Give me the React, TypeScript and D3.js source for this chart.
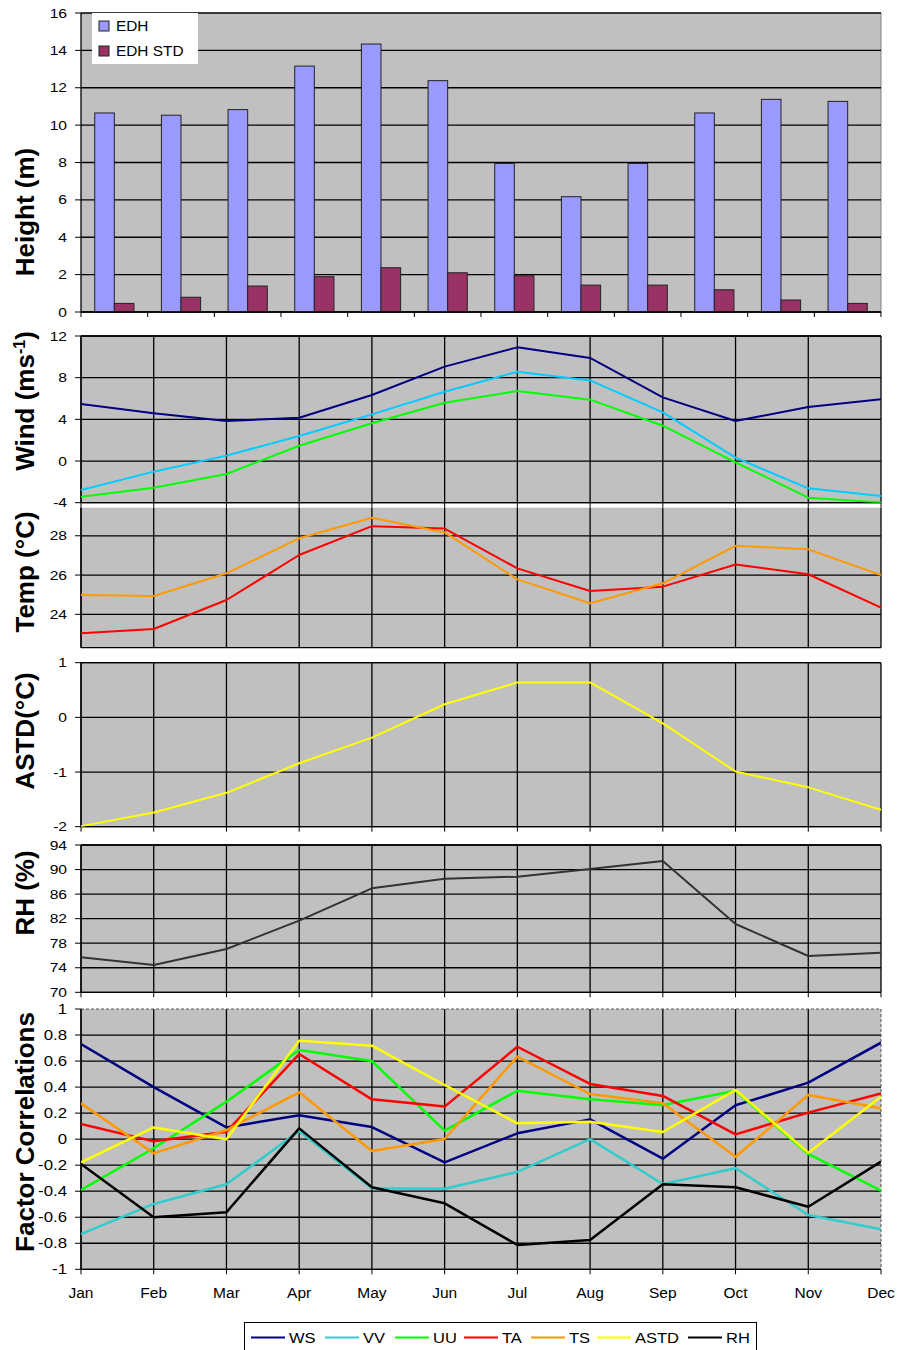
import React from "react";
import * as d3 from "d3";

// ---------- DATA ----------
const months = ["Jan", "Feb", "Mar", "Apr", "May", "Jun", "Jul", "Aug", "Sep", "Oct", "Nov", "Dec"];

const edh = [10.65, 10.53, 10.83, 13.16, 14.34, 12.38, 7.95, 6.17, 7.95, 10.65, 11.38, 11.27];
const edhStd = [0.46, 0.79, 1.39, 1.89, 2.37, 2.1, 1.94, 1.44, 1.44, 1.19, 0.64, 0.46];

const windWS = [5.47, 4.58, 3.84, 4.16, 6.34, 9.06, 10.91, 9.89, 6.11, 3.84, 5.19, 5.92];
const windVV = [-2.78, -1.02, 0.52, 2.4, 4.48, 6.65, 8.57, 7.74, 4.67, 0.32, -2.62, -3.35];
const windUU = [-3.42, -2.56, -1.24, 1.47, 3.62, 5.6, 6.72, 5.89, 3.39, -0.13, -3.52, -3.97];

const tempTA = [23.03, 23.25, 24.73, 27.02, 28.49, 28.37, 26.34, 25.19, 25.41, 26.54, 26.04, 24.34];
const tempTS = [24.98, 24.93, 26.09, 27.87, 28.92, 28.17, 25.78, 24.56, 25.58, 27.49, 27.31, 26.0];

const astdValues = [-1.99, -1.74, -1.38, -0.84, -0.37, 0.24, 0.64, 0.64, -0.11, -0.99, -1.28, -1.69];

const rhValues = [75.7, 74.46, 77.06, 81.67, 86.94, 88.52, 88.84, 90.09, 91.39, 81.13, 75.92, 76.46];

const corrWS = [0.731, 0.4, 0.09, 0.183, 0.093, -0.178, 0.045, 0.152, -0.15, 0.26, 0.434, 0.741];
const corrVV = [-0.729, -0.498, -0.347, 0.063, -0.378, -0.381, -0.252, 0.0, -0.345, -0.224, -0.583, -0.693];
const corrUU = [-0.391, -0.07, 0.288, 0.685, 0.6, 0.065, 0.372, 0.306, 0.262, 0.372, -0.114, -0.396];
const corrTA = [0.116, -0.017, 0.057, 0.654, 0.306, 0.25, 0.71, 0.424, 0.332, 0.037, 0.204, 0.352];
const corrTS = [0.275, -0.109, 0.07, 0.36, -0.091, 0.001, 0.634, 0.347, 0.275, -0.135, 0.339, 0.237];
const corrASTD = [-0.178, 0.09, 0.0, 0.757, 0.718, 0.416, 0.122, 0.134, 0.055, 0.378, -0.104, 0.326];
const corrRH = [-0.191, -0.6, -0.562, 0.083, -0.37, -0.493, -0.813, -0.775, -0.347, -0.37, -0.519, -0.173];

const heightTicks = [0, 2, 4, 6, 8, 10, 12, 14, 16];
const windTicks = [-4, 0, 4, 8, 12];
const tempTicks = [24, 26, 28];
const astdTicks = [-2, -1, 0, 1];
const rhTicks = [70, 74, 78, 82, 86, 90, 94];
const corrTicks = [-1, -0.8, -0.6, -0.4, -0.2, 0, 0.2, 0.4, 0.6, 0.8, 1];

const legendNames = ["WS", "VV", "UU", "TA", "TS", "ASTD", "RH"];

// ---------- STYLE / LAYOUT ----------
const W = 897;
const H = 1350;
const L = 81;
const R = 881;
const BG = "#C0C0C0";
const FONT = "'Liberation Sans', Arial, Helvetica, sans-serif";

const corrColors = ["#000080", "#33CCCC", "#00FF00", "#FF0000", "#FF9900", "#FFFF00", "#000000"];
const legendX = [251, 325, 395, 464, 531, 597, 688];

const xPoint = d3.scalePoint<string>().domain(months).range([L, R]);

function TickLabel({ y, text, size }: { y: number; text: string; size: number }) {
  return (
    <text
      transform={`translate(67,${y}) scale(1.2,1)`}
      textAnchor="end"
      dominantBaseline="central"
      fontSize={size}
      fontFamily={FONT}
      fill="#000"
    >
      {text}
    </text>
  );
}

function YLabel({ cy, children }: { cy: number; children: React.ReactNode }) {
  return (
    <text
      transform={`translate(34,${cy}) rotate(-90)`}
      textAnchor="middle"
      fontSize={26}
      fontWeight="bold"
      fontFamily={FONT}
      fill="#000"
    >
      {children}
    </text>
  );
}

type Series = { values: number[]; color: string; width: number };

function LinePanel({
  id,
  top,
  bottom,
  domain,
  ticks,
  series,
  fmt,
  tickSize,
  topLine,
  dashedBorder,
  bottomTicks,
}: {
  id: string;
  top: number;
  bottom: number;
  domain: [number, number];
  ticks: number[];
  series: Series[];
  fmt: (v: number) => string;
  tickSize: number;
  topLine: boolean;
  dashedBorder?: boolean;
  bottomTicks: boolean;
}) {
  const y = d3.scaleLinear().domain(domain).range([bottom, top]);
  const line = d3
    .line<number>()
    .x((_, i) => xPoint(months[i]) as number)
    .y((d) => y(d));
  return (
    <g>
      <defs>
        <clipPath id={`clip-${id}`}>
          <rect x={L} y={top} width={R - L} height={bottom - top} />
        </clipPath>
      </defs>
      <rect x={L} y={top} width={R - L} height={bottom - top} fill={BG} />
      {/* horizontal gridlines */}
      {ticks.map((t) => {
        const yy = y(t);
        if (yy < top - 0.5 || yy > bottom + 0.5) return null;
        if (dashedBorder && Math.abs(yy - top) < 1) return null;
        return <line key={`h${t}`} x1={L} x2={R} y1={yy} y2={yy} stroke="#000" strokeWidth={1.3} />;
      })}
      {/* vertical gridlines */}
      {months.map((m, i) => {
        if (dashedBorder && i === months.length - 1) return null;
        const xx = xPoint(m) as number;
        return <line key={`v${m}`} x1={xx} x2={xx} y1={top} y2={bottom} stroke="#000" strokeWidth={1.3} />;
      })}
      {dashedBorder && (
        <g stroke="#555" strokeWidth={1} strokeDasharray="3,2" fill="none">
          <line x1={L} x2={R} y1={top} y2={top} />
          <line x1={R} x2={R} y1={top} y2={bottom} />
        </g>
      )}
      {topLine && !dashedBorder && <line x1={L} x2={R} y1={top} y2={top} stroke="#000" strokeWidth={1.3} />}
      {/* axes */}
      <line x1={L} x2={L} y1={top} y2={bottom} stroke="#000" strokeWidth={1.3} />
      <line x1={L} x2={R} y1={bottom} y2={bottom} stroke="#000" strokeWidth={1.3} />
      {ticks.map((t) => {
        const yy = y(t);
        if (yy < top - 0.5 || yy > bottom + 0.5) return null;
        return <line key={`lt${t}`} x1={L - 6} x2={L} y1={yy} y2={yy} stroke="#000" strokeWidth={1} />;
      })}
      {bottomTicks &&
        months.map((m) => {
          const xx = xPoint(m) as number;
          return <line key={`bt${m}`} x1={xx} x2={xx} y1={bottom} y2={bottom + 5} stroke="#000" strokeWidth={1} />;
        })}
      <g clipPath={`url(#clip-${id})`}>
        {series.map((s, k) => (
          <path key={k} d={line(s.values) || ""} fill="none" stroke={s.color} strokeWidth={s.width} strokeLinejoin="round" />
        ))}
      </g>
      {ticks.map((t) => {
        const yy = y(t);
        if (yy < top - 0.5 || yy > bottom + 0.5) return null;
        return <TickLabel key={`tl${t}`} y={yy} text={fmt(t)} size={tickSize} />;
      })}
    </g>
  );
}

function BarPanel() {
  const top = 13;
  const bottom = 312;
  const y = d3.scaleLinear().domain([0, 16]).range([bottom, top]);
  const x0 = d3.scaleBand<string>().domain(months).range([L, R]).padding(0);
  const x1 = d3.scaleBand<string>().domain(["EDH", "EDH STD"]).range([0, x0.bandwidth()]).paddingInner(0).paddingOuter(0.7);
  const fills = { EDH: "#9999FF", "EDH STD": "#993366" } as Record<string, string>;
  const seriesVals: Record<string, number[]> = { EDH: edh, "EDH STD": edhStd };
  return (
    <g>
      <rect x={L} y={top} width={R - L} height={bottom - top} fill={BG} />
      <line x1={R} x2={R} y1={top} y2={bottom} stroke="#808080" strokeWidth={1} />
      {heightTicks.map((t) => (
        <line key={`g${t}`} x1={L} x2={R} y1={y(t)} y2={y(t)} stroke="#000" strokeWidth={1.3} />
      ))}
      {months.map((m, i) =>
        ["EDH", "EDH STD"].map((k) => (
          <rect
            key={`${m}${k}`}
            x={(x0(m) as number) + (x1(k) as number)}
            y={y(seriesVals[k][i])}
            width={x1.bandwidth()}
            height={bottom - y(seriesVals[k][i])}
            fill={fills[k]}
            stroke="#222"
            strokeWidth={1}
          />
        ))
      )}
      <line x1={L} x2={L} y1={top} y2={bottom} stroke="#000" strokeWidth={1.3} />
      <line x1={L} x2={R} y1={bottom} y2={bottom} stroke="#000" strokeWidth={1.3} />
      {heightTicks.map((t) => (
        <line key={`lt${t}`} x1={L - 6} x2={L} y1={y(t)} y2={y(t)} stroke="#000" strokeWidth={1} />
      ))}
      {[...months.map((m) => x0(m) as number), R].map((xx, i) => (
        <line key={`bt${i}`} x1={xx} x2={xx} y1={bottom} y2={bottom + 5} stroke="#000" strokeWidth={1} />
      ))}
      {heightTicks.map((t) => (
        <TickLabel key={`tl${t}`} y={y(t)} text={String(t)} size={13} />
      ))}
      {/* legend */}
      <rect x={92} y={13} width={106} height={51} fill="#fff" />
      {["EDH", "EDH STD"].map((k, i) => (
        <g key={k}>
          <rect x={99} y={21 + i * 25} width={10} height={10} fill={fills[k]} stroke="#222" strokeWidth={1} />
          <text
            transform={`translate(116,${26 + i * 25}) scale(1.1,1)`}
            dominantBaseline="central"
            fontSize={14}
            fontFamily={FONT}
          >
            {k}
          </text>
        </g>
      ))}
    </g>
  );
}

export default function App() {
  const corrSeries = [corrWS, corrVV, corrUU, corrTA, corrTS, corrASTD, corrRH];
  const fmtCorr = (v: number) => String(+v.toFixed(1));
  return (
    <svg
      width={W}
      height={H}
      viewBox={`0 0 ${W} ${H}`}
      style={{ position: "absolute", left: 0, top: 0, background: "#fff" }}
    >
      <rect x={0} y={0} width={W} height={H} fill="#fff" />
      <BarPanel />
      <LinePanel
        id="wind"
        top={336}
        bottom={502.7}
        domain={[-4, 12]}
        ticks={windTicks}
        series={[
          { values: windWS, color: "#000080", width: 2 },
          { values: windVV, color: "#00CCFF", width: 2 },
          { values: windUU, color: "#00FF00", width: 2 },
        ]}
        fmt={String}
        tickSize={13}
        topLine
        bottomTicks
      />
      <LinePanel
        id="temp"
        top={507.7}
        bottom={647.7}
        domain={[22.3, 29.43]}
        ticks={tempTicks}
        series={[
          { values: tempTA, color: "#FF0000", width: 2 },
          { values: tempTS, color: "#FF9900", width: 2 },
        ]}
        fmt={String}
        tickSize={13}
        topLine={false}
        bottomTicks={false}
      />
      <LinePanel
        id="astd"
        top={662.7}
        bottom={826.7}
        domain={[-2, 1]}
        ticks={astdTicks}
        series={[{ values: astdValues, color: "#FFFF00", width: 2 }]}
        fmt={String}
        tickSize={13}
        topLine
        bottomTicks
      />
      <LinePanel
        id="rh"
        top={845}
        bottom={992.3}
        domain={[70, 94]}
        ticks={rhTicks}
        series={[{ values: rhValues, color: "#333333", width: 2 }]}
        fmt={String}
        tickSize={13}
        topLine
        bottomTicks
      />
      <LinePanel
        id="corr"
        top={1009}
        bottom={1269.3}
        domain={[-1, 1]}
        ticks={corrTicks}
        series={corrSeries.map((v, i) => ({ values: v, color: corrColors[i], width: 2.5 }))}
        fmt={fmtCorr}
        tickSize={14}
        topLine={false}
        dashedBorder
        bottomTicks
      />
      {/* month labels */}
      {months.map((m) => (
        <text
          key={m}
          x={xPoint(m) as number}
          y={1298}
          textAnchor="middle"
          fontSize={15.5}
          fontFamily={FONT}
        >
          {m}
        </text>
      ))}
      {/* y labels */}
      <YLabel cy={212}>Height (m)</YLabel>
      <YLabel cy={401}>
        Wind (ms
        <tspan fontSize={16} dy={-9}>
          -1
        </tspan>
        <tspan dy={9}>)</tspan>
      </YLabel>
      <YLabel cy={572}>Temp (°C)</YLabel>
      <YLabel cy={731}>ASTD(°C)</YLabel>
      <YLabel cy={893}>RH (%)</YLabel>
      <YLabel cy={1132}>Factor Correlations</YLabel>
      {/* bottom legend */}
      <rect x={244.5} y={1322.5} width={512} height={40} fill="#fff" stroke="#000" strokeWidth={1} />
      {legendNames.map((n, i) => (
        <g key={n}>
          <line
            x1={legendX[i]}
            x2={legendX[i] + 34}
            y1={1337.5}
            y2={1337.5}
            stroke={corrColors[i]}
            strokeWidth={2}
          />
          <text
            transform={`translate(${legendX[i] + 38},${1337.5}) scale(1.1,1)`}
            dominantBaseline="central"
            fontSize={15}
            fontFamily={FONT}
          >
            {n}
          </text>
        </g>
      ))}
    </svg>
  );
}
